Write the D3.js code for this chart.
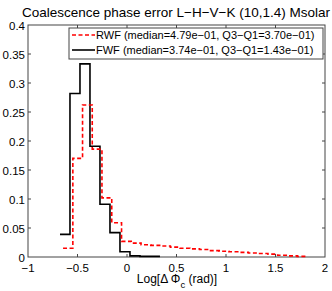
<!DOCTYPE html>
<html>
<head>
<meta charset="utf-8">
<script src="https://cdn.jsdelivr.net/npm/d3@7"></script>
<style>
  body { margin: 0; background: #fff; }
  text { font-family: "Liberation Sans", Arial, sans-serif; fill: #000; }
</style>
</head>
<body>
<div id="chart"></div>
<script>
// bin edges (Log of phase error) and normalised counts
var rwfEdges = [-0.646, -0.547, -0.449, -0.351, -0.253, -0.154, -0.055, 0.043, 0.142, 0.240,
  0.339, 0.438, 0.536, 0.635, 0.733, 0.832, 0.931, 1.029, 1.128, 1.226,
  1.325, 1.424, 1.522, 1.621, 1.719, 1.818]
var rwfValues = [0.015, 0.170, 0.262, 0.186, 0.102, 0.059, 0.027, 0.024, 0.021, 0.020,
  0.019, 0.017, 0.015, 0.014, 0.013, 0.011, 0.010, 0.009, 0.008, 0.007,
  0.006, 0.005, 0.003, 0.002, 0.001]

var fwfEdges = [-0.677, -0.576, -0.475, -0.374, -0.273, -0.172, -0.071, 0.030, 0.131, 0.232, 0.333]
var fwfValues = [0.039, 0.282, 0.333, 0.191, 0.091, 0.042, 0.009, 0.002, 0.001, 0.001]

var xTicks = [-1, -0.5, 0, 0.5, 1, 1.5, 2]
var yTicks = [0, 0.05, 0.1, 0.15, 0.2, 0.25, 0.3, 0.35, 0.4]
var legendLabels = ["RWF (median=4.79e\u221201, Q3\u2212Q1=3.70e\u221201)",
  "FWF (median=3.74e\u221201, Q3\u2212Q1=1.43e\u221201)"]
var title = "Coalescence phase error L\u2212H\u2212V\u2212K (10,1.4) Msolar"

var W = 332, H = 291
var margin = { top: 25, right: 7, bottom: 34, left: 28 }

var svg = d3.select("#chart")
  .append("svg")
  .attr("width", W)
  .attr("height", H)

var x = d3.scaleLinear().domain([-1, 2]).range([margin.left, W - margin.right])
var y = d3.scaleLinear().domain([0, 0.4]).range([H - margin.bottom, margin.top])

var fmt = function (d) { return String(d).replace("-", "\u2212") }

// box
svg.append("rect")
  .attr("x", x(-1)).attr("y", y(0.4))
  .attr("width", x(2) - x(-1)).attr("height", y(0) - y(0.4))
  .attr("fill", "none").attr("stroke", "#444").attr("stroke-width", 1)

// ticks inside on all four sides
var tl = 3
svg.selectAll("xtick")
  .data(xTicks.slice(1, -1))
  .enter().append("path")
  .attr("d", function (d) {
    return "M" + x(d) + "," + y(0) + "v" + (-tl) + "M" + x(d) + "," + y(0.4) + "v" + tl
  })
  .attr("stroke", "#444")
svg.selectAll("ytick")
  .data(yTicks.slice(1, -1))
  .enter().append("path")
  .attr("d", function (d) {
    return "M" + x(-1) + "," + y(d) + "h" + tl + "M" + x(2) + "," + y(d) + "h" + (-tl)
  })
  .attr("stroke", "#444")

svg.selectAll("xlab")
  .data(xTicks)
  .enter().append("text")
  .attr("x", function (d) { return x(d) })
  .attr("y", y(0) + 14.5)
  .attr("text-anchor", "middle")
  .style("font-size", "11.5px")
  .text(fmt)

svg.selectAll("ylab")
  .data(yTicks)
  .enter().append("text")
  .attr("x", x(-1) - 3)
  .attr("y", function (d) { return y(d) + 4.5 })
  .attr("text-anchor", "end")
  .style("font-size", "11.5px")
  .text(fmt)

// stairs
function stairs(edges, values) {
  var pts = values.map(function (v, i) { return [edges[i], v] })
  pts.push([edges[edges.length - 1], values[values.length - 1]])
  return d3.line()
    .x(function (d) { return x(d[0]) })
    .y(function (d) { return y(d[1]) })
    .curve(d3.curveStepAfter)(pts)
}

svg.append("path")
  .attr("d", stairs(fwfEdges, fwfValues))
  .attr("fill", "none")
  .attr("stroke", "#000")
  .attr("stroke-width", 1.6)

svg.append("path")
  .attr("d", stairs(rwfEdges, rwfValues))
  .attr("fill", "none")
  .attr("stroke", "#ff0000")
  .attr("stroke-width", 1.6)
  .attr("stroke-dasharray", "4,2.5")

// title
svg.append("text")
  .attr("x", 176).attr("y", 17)
  .attr("text-anchor", "middle")
  .style("font-size", "13.5px")
  .text(title)

// x label
var xl = svg.append("text")
  .attr("x", 177).attr("y", 283)
  .attr("text-anchor", "middle")
  .style("font-size", "12px")
xl.append("tspan").text("Log[\u0394 \u03A6")
xl.append("tspan").attr("dy", 5).style("font-size", "9.5px").text("c")
xl.append("tspan").attr("dy", -5).text(" (rad)]")

// legend
var lg = svg.append("g")
lg.append("rect")
  .attr("x", 69).attr("y", 28).attr("width", 254).attr("height", 31)
  .attr("fill", "#fff").attr("stroke", "#444")
var legendStyles = [{ c: "#ff0000", dash: "4,2.5" }, { c: "#000", dash: null }]
legendLabels.forEach(function (t, i) {
  var yy = 35 + i * 15
  lg.append("line")
    .attr("x1", 72).attr("x2", 95).attr("y1", yy).attr("y2", yy)
    .attr("stroke", legendStyles[i].c).attr("stroke-width", 1.6)
    .attr("stroke-dasharray", legendStyles[i].dash)
  lg.append("text")
    .attr("x", 96).attr("y", yy + 4)
    .style("font-size", "11px")
    .text(t)
})
</script>
</body>
</html>
